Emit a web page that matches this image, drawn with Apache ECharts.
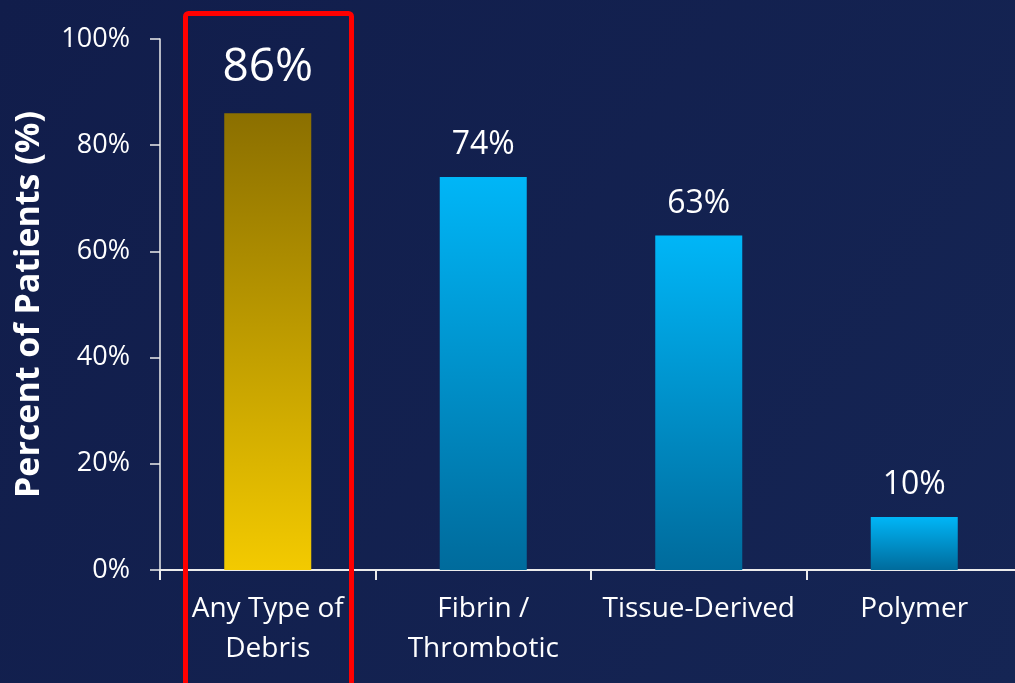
<!DOCTYPE html>
<html>
<head>
<meta charset="utf-8">
<script src="https://cdn.jsdelivr.net/npm/echarts@6/dist/echarts.min.js"></script>
<style>
  html, body { margin: 0; padding: 0; overflow: hidden; }
  body { width: 1015px; height: 683px; }
  #main { width: 1022px; height: 683px; }
</style>
</head>
<body>
<div id="main"></div>
<script>
var categories = ['Any Type of\nDebris', 'Fibrin /\nThrombotic', 'Tissue-Derived', 'Polymer'];
var values = [86, 74, 63, 10];
var yTicks = [0, 20, 40, 60, 80, 100];

var dom = document.getElementById('main');
var myChart = echarts.init(dom);

var goldFill = new echarts.graphic.LinearGradient(0, 0, 0, 1, [
    { offset: 0, color: '#8b6f00' },
    { offset: 1, color: '#f3ca00' }
]);
var blueFill = new echarts.graphic.LinearGradient(0, 0, 0, 1, [
    { offset: 0, color: '#00b6f7' },
    { offset: 1, color: '#006b9c' }
]);

var barData = values.map(function (v, i) {
    var item = { value: v, itemStyle: { color: i === 0 ? goldFill : blueFill } };
    if (i === 0) {
        item.label = { fontSize: 46, distance: 22 };
    }
    return item;
});

var option = {
    backgroundColor: new echarts.graphic.LinearGradient(0, 0, 1, 1, [
        { offset: 0, color: '#111d4b' },
        { offset: 1, color: '#152554' }
    ]),
    textStyle: { fontFamily: 'Open Sans' },
    grid: { left: 160, top: 39, right: 0, bottom: 113, containLabel: false },
    xAxis: {
        type: 'category',
        data: categories,
        axisLine: { lineStyle: { color: '#ececec', width: 2 } },
        axisTick: { show: true, length: 10, lineStyle: { color: '#ececec', width: 2 } },
        axisLabel: {
            color: '#ffffff',
            fontSize: 28,
            lineHeight: 40,
            margin: 19,
            interval: 0
        }
    },
    yAxis: {
        type: 'value',
        min: yTicks[0],
        max: yTicks[yTicks.length - 1],
        interval: 20,
        name: 'Percent of Patients (%)',
        nameLocation: 'middle',
        nameGap: 114,
        nameTextStyle: { color: '#ffffff', fontSize: 34, fontWeight: 'bold' },
        splitLine: { show: false },
        axisLine: { show: true, lineStyle: { color: '#ececec', width: 1.5 } },
        axisTick: { show: true, length: 10, lineStyle: { color: '#ececec', width: 1.5 } },
        axisLabel: {
            color: '#ffffff',
            fontSize: 27,
            margin: 30,
            formatter: '{value}%'
        }
    },
    series: [{
        type: 'bar',
        data: barData,
        barWidth: 87,
        label: {
            show: true,
            position: 'top',
            distance: 16,
            color: '#ffffff',
            fontSize: 32,
            formatter: '{c}%'
        }
    }],
    graphic: [{
        type: 'rect',
        left: 183,
        top: 11,
        shape: { width: 166, height: 690, r: 3 },
        style: { fill: 'none', stroke: '#ff0000', lineWidth: 5 },
        z: 100
    }]
};

myChart.setOption(option);
</script>
</body>
</html>
